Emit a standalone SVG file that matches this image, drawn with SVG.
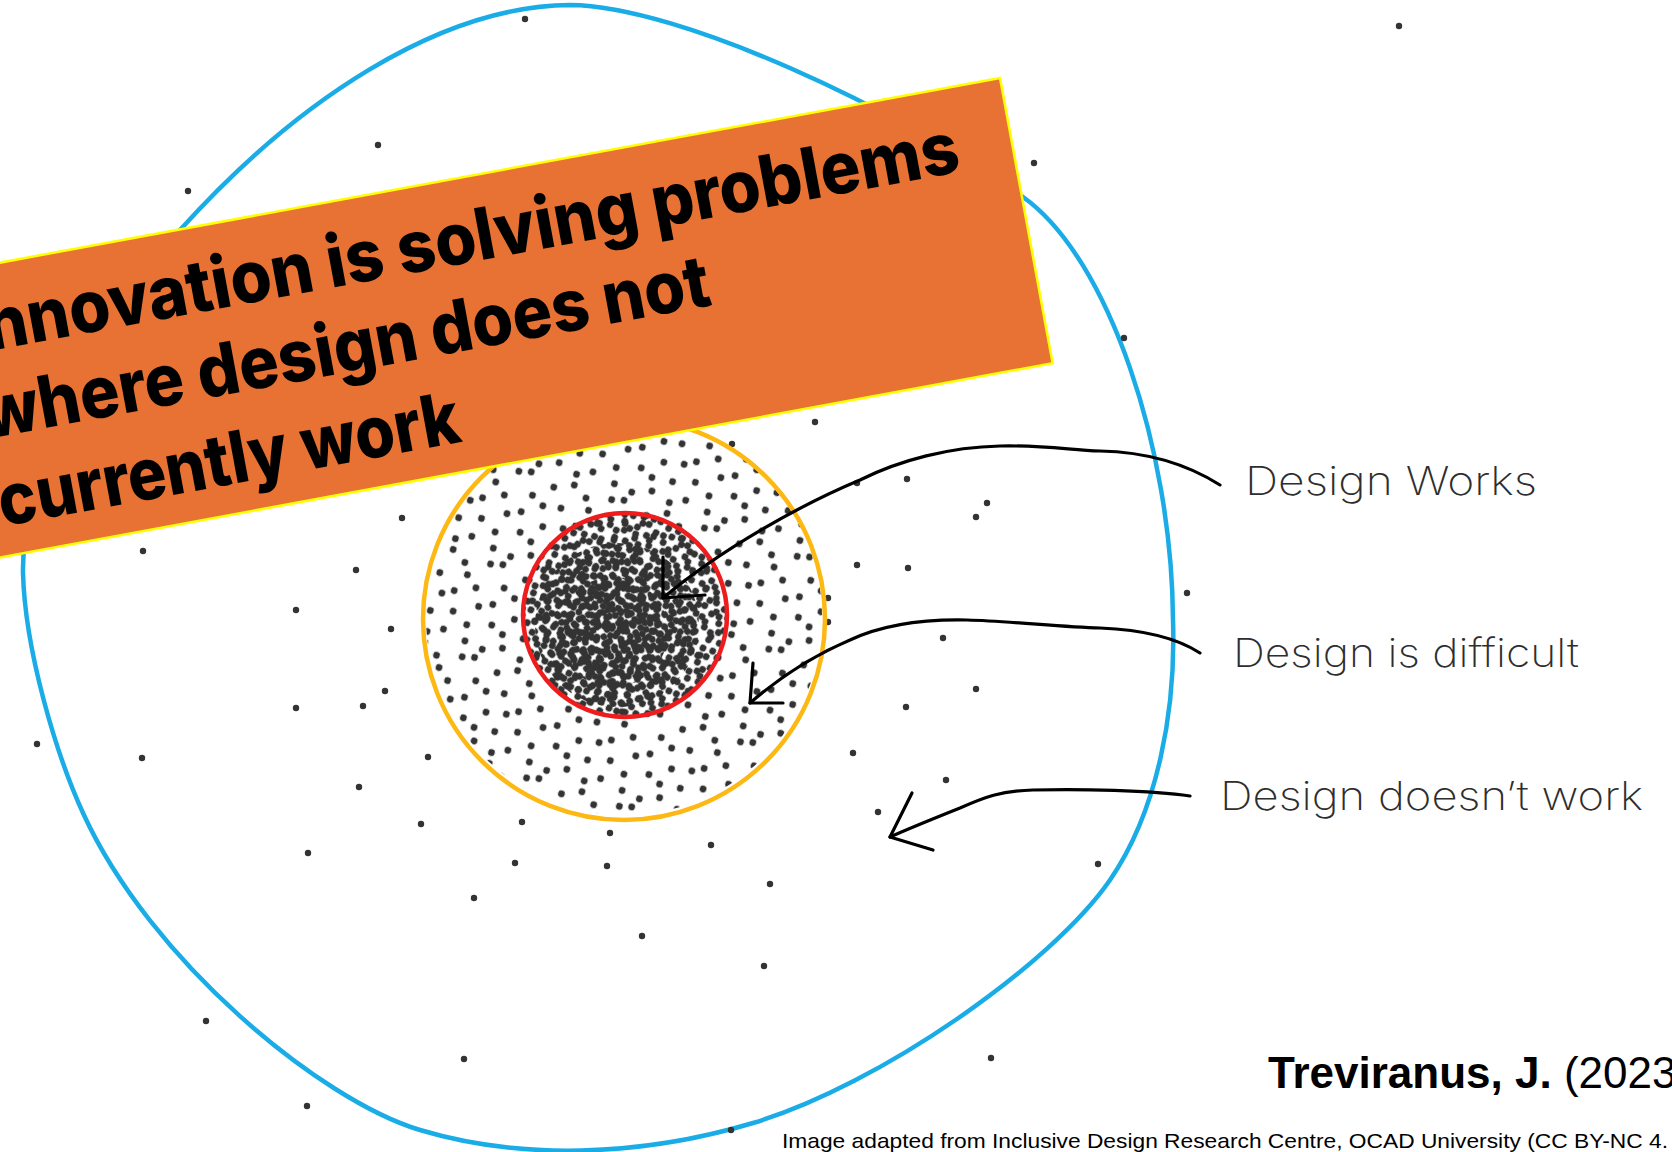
<svg xmlns="http://www.w3.org/2000/svg" width="1672" height="1152" viewBox="0 0 1672 1152">
<style>
.dot{fill:#333333}
.conn{fill:none;stroke:#000;stroke-width:3.2;stroke-linecap:round;stroke-linejoin:round}
.lbl{font-family:Inter,"Open Sans","Liberation Sans",sans-serif;font-weight:200;font-size:40px;fill:#2e2e2e}
.ban{font-family:Inter,"Open Sans","Liberation Sans",sans-serif;font-weight:800;font-size:72px;fill:#000}
.cite{font-family:"Liberation Sans",Arial,sans-serif;font-size:44px;fill:#000}
.foot{font-family:"Liberation Sans",Arial,sans-serif;font-size:21px;fill:#000}
</style>
<defs>
<pattern id="ringDots" patternUnits="userSpaceOnUse" width="97" height="97" patternTransform="rotate(17)">
<g class="dot">
<circle cx="12" cy="5" r="3.4"/><circle cx="27" cy="14" r="3.4"/><circle cx="52" cy="8" r="3.4"/><circle cx="64" cy="5" r="3.4"/><circle cx="90" cy="13" r="3.4"/>
<circle cx="6" cy="31" r="3.4"/><circle cx="33" cy="25" r="3.4"/><circle cx="45" cy="35" r="3.4"/><circle cx="72" cy="27" r="3.4"/><circle cx="85" cy="34" r="3.4"/>
<circle cx="14" cy="50" r="3.4"/><circle cx="25" cy="44" r="3.4"/><circle cx="53" cy="52" r="3.4"/><circle cx="66" cy="46" r="3.4"/><circle cx="91" cy="54" r="3.4"/>
<circle cx="8" cy="70" r="3.4"/><circle cx="30" cy="64" r="3.4"/><circle cx="47" cy="73" r="3.4"/><circle cx="71" cy="66" r="3.4"/><circle cx="84" cy="72" r="3.4"/>
<circle cx="11" cy="91" r="3.4"/><circle cx="26" cy="84" r="3.4"/><circle cx="50" cy="89" r="3.4"/><circle cx="69" cy="92" r="3.4"/><circle cx="88" cy="85" r="3.4"/>
</g>
</pattern>
<pattern id="coreDots" patternUnits="userSpaceOnUse" width="44" height="44" patternTransform="rotate(29)">
<g class="dot">
<circle cx="5" cy="6" r="3.4"/><circle cx="15" cy="4" r="3.4"/><circle cx="22" cy="8" r="3.4"/><circle cx="32" cy="5" r="3.4"/><circle cx="39" cy="4" r="3.4"/>
<circle cx="4" cy="15" r="3.4"/><circle cx="12" cy="12" r="3.4"/><circle cx="24" cy="14" r="3.4"/><circle cx="30" cy="12" r="3.4"/><circle cx="40" cy="16" r="3.4"/>
<circle cx="7" cy="21" r="3.4"/><circle cx="15" cy="25" r="3.4"/><circle cx="21" cy="20" r="3.4"/><circle cx="33" cy="23" r="3.4"/><circle cx="38" cy="26" r="3.4"/>
<circle cx="4" cy="33" r="3.4"/><circle cx="11" cy="29" r="3.4"/><circle cx="24" cy="31" r="3.4"/><circle cx="30" cy="35" r="3.4"/><circle cx="40" cy="31" r="3.4"/>
<circle cx="6" cy="40" r="3.4"/><circle cx="17" cy="38" r="3.4"/><circle cx="23" cy="40" r="3.4"/><circle cx="34" cy="39" r="3.4"/>
</g>
</pattern>
<pattern id="coreDots2" href="#coreDots" patternTransform="rotate(-37) translate(7,3)"/>
<pattern id="centerDots" patternUnits="userSpaceOnUse" width="31" height="31" patternTransform="rotate(-12)">
<g class="dot">
<circle cx="5" cy="6" r="3.4"/><circle cx="17" cy="4" r="3.4"/><circle cx="26" cy="11" r="3.4"/><circle cx="9" cy="17" r="3.4"/><circle cx="21" cy="19" r="3.4"/><circle cx="4" cy="27" r="3.4"/><circle cx="15" cy="27" r="3.4"/><circle cx="27" cy="25" r="3.4"/>
</g>
</pattern>
</defs>
<rect width="1672" height="1152" fill="#fff"/>

<g id="outer-region">
<path d="M570,5 C680,6 900,110 1023,197 C1109,258 1172,450 1173,620 C1176,710 1158,810 1110,880 C1052,964 880,1085 753,1123 C639,1157 520,1160 420,1130 C320,1100 150,960 83,813 C56,754 25,650 23,573 C21,490 90,330 180,230 C297,100 440,6 570,5 Z" fill="none" stroke="#1AACE6" stroke-width="4.5"/>
</g>

<g id="scatter-dots" class="dot">
<circle cx="188" cy="191" r="3.2"/><circle cx="378" cy="145" r="3.2"/><circle cx="525" cy="19" r="3.2"/><circle cx="1399" cy="26" r="3.2"/><circle cx="1034" cy="163" r="3.2"/><circle cx="1124" cy="338" r="3.2"/>
<circle cx="356" cy="570" r="3.2"/><circle cx="296" cy="610" r="3.2"/><circle cx="391" cy="629" r="3.2"/><circle cx="385" cy="691" r="3.2"/><circle cx="296" cy="708" r="3.2"/><circle cx="363" cy="706" r="3.2"/><circle cx="37" cy="744" r="3.2"/><circle cx="142" cy="758" r="3.2"/><circle cx="428" cy="757" r="3.2"/><circle cx="359" cy="787" r="3.2"/><circle cx="421" cy="824" r="3.2"/><circle cx="308" cy="853" r="3.2"/><circle cx="206" cy="1021" r="3.2"/>
<circle cx="522" cy="822" r="3.2"/><circle cx="610" cy="833" r="3.2"/><circle cx="711" cy="845" r="3.2"/><circle cx="515" cy="863" r="3.2"/><circle cx="607" cy="866" r="3.2"/><circle cx="474" cy="898" r="3.2"/><circle cx="770" cy="884" r="3.2"/><circle cx="642" cy="936" r="3.2"/><circle cx="764" cy="966" r="3.2"/><circle cx="464" cy="1059" r="3.2"/><circle cx="731" cy="1130" r="3.2"/>
<circle cx="815" cy="422" r="3.2"/><circle cx="732" cy="444" r="3.2"/><circle cx="907" cy="479" r="3.2"/><circle cx="857" cy="483" r="3.2"/><circle cx="987" cy="503" r="3.2"/><circle cx="976" cy="517" r="3.2"/><circle cx="857" cy="565" r="3.2"/><circle cx="908" cy="568" r="3.2"/><circle cx="1187" cy="593" r="3.2"/><circle cx="828" cy="598" r="3.2"/><circle cx="828" cy="622" r="3.2"/><circle cx="943" cy="638" r="3.2"/><circle cx="976" cy="689" r="3.2"/><circle cx="906" cy="707" r="3.2"/><circle cx="853" cy="753" r="3.2"/><circle cx="946" cy="780" r="3.2"/><circle cx="878" cy="812" r="3.2"/><circle cx="1098" cy="864" r="3.2"/>
<circle cx="402" cy="518" r="3.2"/><circle cx="143" cy="551" r="3.2"/><circle cx="991" cy="1058" r="3.2"/><circle cx="307" cy="1106" r="3.2"/>
</g>

<g id="difficult-region">
<circle cx="624" cy="617" r="198" fill="url(#ringDots)"/>
<circle cx="624" cy="619" r="201" fill="none" stroke="#FDB813" stroke-width="4.5"/>
</g>

<g id="works-region">
<circle cx="625" cy="615" r="101" fill="url(#coreDots)"/>
<circle cx="617" cy="625" r="82" fill="url(#coreDots2)"/>
<circle cx="613" cy="632" r="55" fill="url(#centerDots)"/>
<circle cx="625" cy="615" r="102" fill="none" stroke="#EE1C1C" stroke-width="4.5"/>
</g>

<g id="connectors">
<path class="conn" d="M1220,485 C1190,466 1150,452 1100,451 C1070,450 1045,445 1000,446 C950,447 900,460 860,480 C800,505 720,550 663,598"/>
<path class="conn" d="M663,557 L663,598 L705,595"/>
<path class="conn" d="M1200,653 C1180,640 1150,630 1100,628 C1060,627 1010,621 967,620 C920,619 880,626 850,640 C810,657 780,677 750,703"/>
<path class="conn" d="M753,663 L750,703 L783,703"/>
<path class="conn" d="M1190,796 C1150,790 1080,789 1033,790 C1000,791 985,797 960,808 C930,820 910,828 890,837"/>
<path class="conn" d="M912,793 L890,837 L933,850"/>
</g>

<g id="label-works"><text class="lbl" x="1245" y="495" textLength="292" lengthAdjust="spacingAndGlyphs">Design Works</text></g>
<g id="label-difficult"><text class="lbl" x="1233" y="667" textLength="346" lengthAdjust="spacingAndGlyphs">Design is difficult</text></g>
<g id="label-doesnt"><text class="lbl" x="1220" y="810" textLength="423" lengthAdjust="spacingAndGlyphs">Design doesn’t work</text></g>

<g id="banner" transform="translate(1000,78) rotate(-10.46)">
<rect x="-1250" y="0" width="1250" height="290" fill="#E87233" stroke="#FFFF00" stroke-width="2.5"/>
<text class="ban" x="-1062" y="85" textLength="1008" lengthAdjust="spacingAndGlyphs">Innovation is solving problems</text>
<text class="ban" x="-1062" y="171" textLength="739" lengthAdjust="spacingAndGlyphs">where design does not</text>
<text class="ban" x="-1062" y="260" textLength="468" lengthAdjust="spacingAndGlyphs">currently work</text>
</g>

<g id="citation">
<text class="cite" x="1268" y="1088"><tspan font-weight="700">Treviranus, J.</tspan> (2023</text>
<text class="foot" x="782" y="1148" textLength="886" lengthAdjust="spacingAndGlyphs">Image adapted from Inclusive Design Research Centre, OCAD University (CC BY-NC 4.</text>
</g>
</svg>
